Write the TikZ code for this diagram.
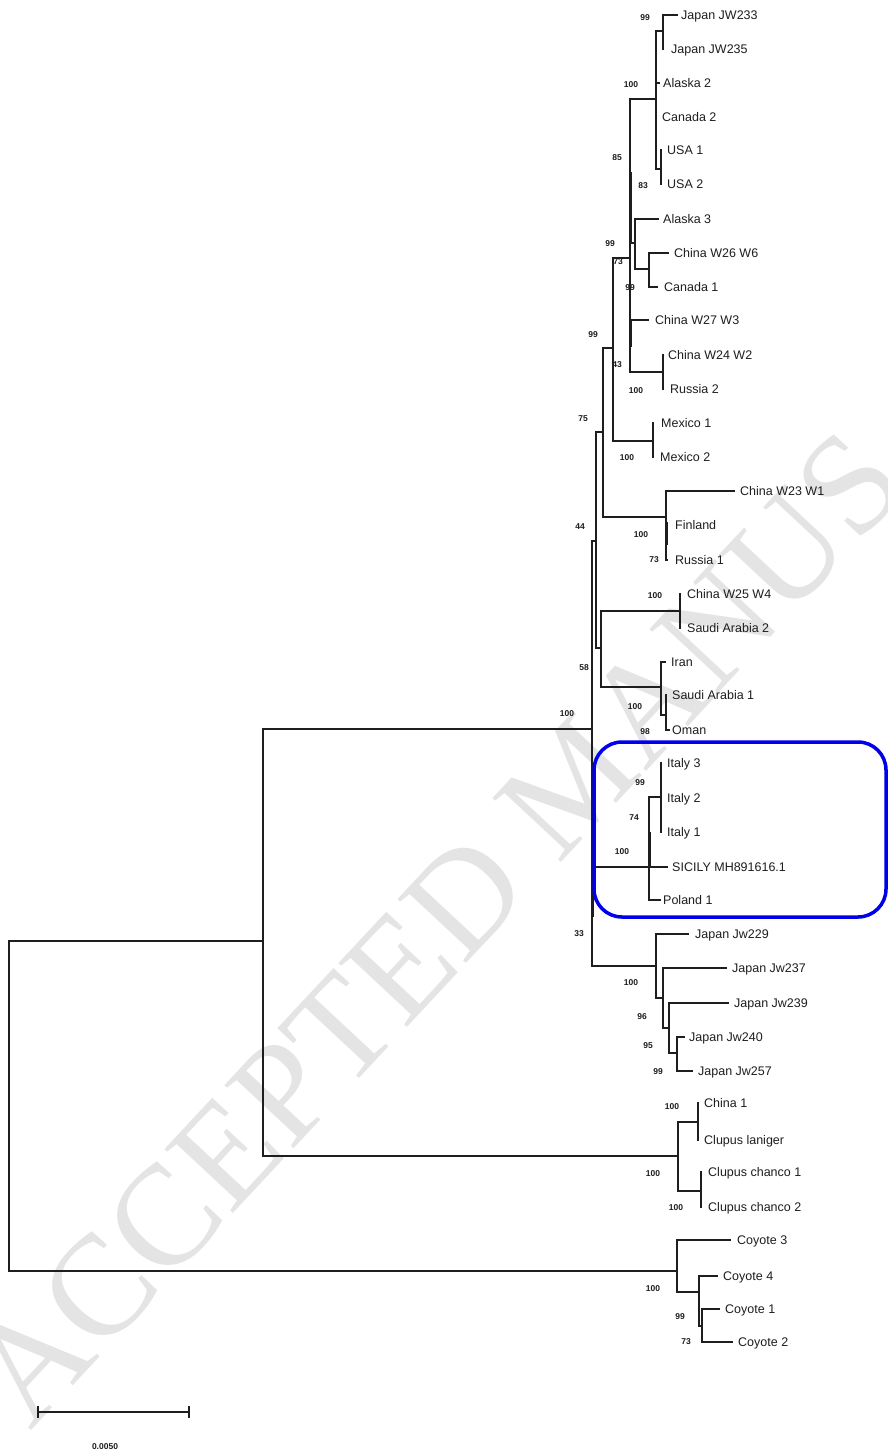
\documentclass[tikz,border=0pt]{standalone}
\usepackage{fontspec}
\setmainfont{Liberation Sans}
\newfontfamily\wmfont{Liberation Serif}
\definecolor{treeline}{RGB}{30,30,30}
\definecolor{wmgray}{RGB}{228,228,228}
\definecolor{boxblue}{RGB}{0,0,235}
\newcommand\leaf[5]{\coordinate (e#1) at (#2,#3); \node[tip] (l#1) at (#4,#3) {#5};}
\newcommand\hb[2]{\draw[br] (#1|-#2) -- (#2);}
\newcommand\vb[3]{\draw[br] (#1|-#2) -- (#1|-#3);}
\begin{document}
\begin{tikzpicture}[x=1pt,y=-1pt,
  br/.style={line width=1.2pt, treeline, line cap=rect},
  thk/.style={line width=3pt, treeline},
  tip/.style={anchor=west, inner sep=0pt, font=\fontsize{12.5}{14}\selectfont, text height=9pt, text depth=0pt, text=treeline},
  bs/.style={inner sep=0pt, font=\fontsize{8.5}{9}\selectfont\bfseries, text=treeline},
]
\useasboundingbox (0,0) rectangle (888,1453);
\fill[white] (0,0) rectangle (888,1453);
% watermark
\begin{scope}
\clip (0,0) rectangle (888,1453);
\node[anchor=base west, rotate=47, inner sep=0pt, text=wmgray, font=\wmfont\fontsize{143}{143}\selectfont] (wm) at (30,1432) {ACCEPTED MANUS};
\end{scope}

% leaves
\leaf{a}{677}{15}{681}{Japan JW233}
\leaf{b}{663}{49}{671}{Japan JW235}
\leaf{c}{659}{83}{663}{Alaska 2}
\leaf{d}{656}{117}{662}{Canada 2}
\leaf{e}{661}{150}{667}{USA 1}
\leaf{f}{661}{184}{667}{USA 2}
\leaf{g}{658}{219}{663}{Alaska 3}
\leaf{h}{668}{253}{674}{China W26 W6}
\leaf{i}{657}{287}{664}{Canada 1}
\leaf{j}{648}{320}{655}{China W27 W3}
\leaf{k}{663}{355}{668}{China W24 W2}
\leaf{l}{663}{389}{670}{Russia 2}
\leaf{m}{653}{423}{661}{Mexico 1}
\leaf{n}{653}{457}{660}{Mexico 2}
\leaf{o}{734}{491}{740}{China W23 W1}
\leaf{p}{666}{525}{675}{Finland}
\leaf{q}{667}{560}{675}{Russia 1}
\leaf{r}{680}{594}{687}{China W25 W4}
\leaf{s}{680}{628}{687}{Saudi Arabia 2}
\leaf{t}{665}{662}{671}{Iran}
\leaf{u}{666}{695}{672}{Saudi Arabia 1}
\leaf{v}{669}{730}{672}{Oman}
\leaf{w}{661}{763}{667}{Italy 3}
\leaf{x}{661}{798}{667}{Italy 2}
\leaf{y}{661}{832}{667}{Italy 1}
\leaf{z}{667}{867}{672}{SICILY MH891616.1}
\leaf{aa}{660}{900}{663}{Poland 1}
\leaf{ab}{688}{934}{695}{Japan Jw229}
\leaf{ac}{726}{968}{732}{Japan Jw237}
\leaf{ad}{728}{1003}{734}{Japan Jw239}
\leaf{ae}{684}{1037}{689}{Japan Jw240}
\leaf{af}{692}{1071}{698}{Japan Jw257}
\leaf{ag}{698}{1103}{704}{China 1}
\leaf{ah}{698}{1140}{704}{Clupus laniger}
\leaf{ai}{701}{1172}{708}{Clupus chanco 1}
\leaf{aj}{701}{1207}{708}{Clupus chanco 2}
\leaf{ak}{730}{1240}{737}{Coyote 3}
\leaf{al}{717}{1276}{723}{Coyote 4}
\leaf{am}{719}{1309}{725}{Coyote 1}
\leaf{an}{732}{1342}{738}{Coyote 2}

% internal nodes
\coordinate (R) at (9,1106);
\coordinate (nA) at (263,941);
\coordinate (nIn) at (592,729);
\coordinate (nClu) at (678,1156);
\coordinate (nCoy) at (677,1271);
\coordinate (n44) at (596,541);
\coordinate (nIt) at (649,867);
\coordinate (nJw) at (656,966);
\coordinate (n75) at (603,432);
\coordinate (n58) at (601,648);
\coordinate (n99) at (613,348);
\coordinate (nFin) at (666,517);
\coordinate (n85) at (630,258);
\coordinate (nMex) at (653,441);
\coordinate (nTop) at (656,99);
\coordinate (nAk) at (635,243);
\coordinate (nC24) at (663,372);
\coordinate (nJp) at (663,31);
\coordinate (nUSA) at (661,169);
\coordinate (nC26) at (649,269);
\coordinate (nC25) at (680,611);
\coordinate (nIr) at (661,687);
\coordinate (nSA) at (666,715);
\coordinate (nI3) at (661,797);
\coordinate (nJ2) at (663,998);
\coordinate (nJ3) at (669,1028);
\coordinate (nJ4) at (677,1053);
\coordinate (nC1) at (698,1122);
\coordinate (nC2) at (701,1191);
\coordinate (nK2) at (699,1292);
\coordinate (nK3) at (702,1326);

% branches
\vb{R}{nA}{nCoy} \hb{R}{nA} \hb{R}{nCoy}
\vb{nA}{nIn}{nClu} \hb{nA}{nIn} \hb{nA}{nClu}
\vb{nIn}{n44}{nJw} \hb{nIn}{n44} \hb{nIn}{nIt} \hb{nIn}{nJw}
\vb{n44}{n75}{n58} \hb{n44}{n75} \hb{n44}{n58}
\vb{n75}{n99}{nFin} \hb{n75}{n99} \hb{n75}{nFin}
\vb{n99}{n85}{nMex} \hb{n99}{n85} \hb{n99}{nMex}
\vb{n85}{nTop}{nC24} \hb{n85}{nTop} \hb{n85}{nAk} \hb{n85}{ej} \hb{n85}{nC24}
\vb{nTop}{nJp}{nUSA} \hb{nTop}{nJp} \hb{nTop}{ec} \hb{nTop}{nUSA}
\vb{nJp}{ea}{eb} \hb{nJp}{ea}
\vb{nUSA}{ee}{ef}
\vb{nAk}{eg}{nC26} \hb{nAk}{eg} \hb{nAk}{nC26}
\vb{nC26}{eh}{ei} \hb{nC26}{eh} \hb{nC26}{ei}
\vb{nC24}{ek}{el}
\vb{nMex}{em}{en}
\vb{nFin}{eo}{eq} \hb{nFin}{eo} \hb{nFin}{eq}
\vb{n58}{nC25}{nIr} \hb{n58}{nC25} \hb{n58}{nIr}
\vb{nC25}{er}{es}
\vb{nIr}{et}{nSA} \hb{nIr}{et} \hb{nIr}{nSA}
\vb{nSA}{eu}{ev} \hb{nSA}{ev}
\vb{nIt}{nI3}{eaa} \hb{nIt}{nI3} \hb{nIt}{ez} \hb{nIt}{eaa}
\vb{nI3}{ew}{ey}
\vb{nJw}{eab}{nJ2} \hb{nJw}{eab} \hb{nJw}{nJ2}
\vb{nJ2}{eac}{nJ3} \hb{nJ2}{eac} \hb{nJ2}{nJ3}
\vb{nJ3}{ead}{nJ4} \hb{nJ3}{ead} \hb{nJ3}{nJ4}
\vb{nJ4}{eae}{eaf} \hb{nJ4}{eae} \hb{nJ4}{eaf}
\vb{nClu}{nC1}{nC2} \hb{nClu}{nC1} \hb{nClu}{nC2}
\vb{nC1}{eag}{eah}
\vb{nC2}{eai}{eaj}
\vb{nCoy}{eak}{nK2} \hb{nCoy}{eak} \hb{nCoy}{nK2}
\vb{nK2}{eal}{nK3} \hb{nK2}{eal} \hb{nK2}{nK3}
\vb{nK3}{eam}{ean} \hb{nK3}{eam} \hb{nK3}{ean}

% overlapping short branches (thick)
\draw[thk] (630,172) -- (630,243);
\draw[thk] (630,320) -- (630,347);
\draw[thk] (666,522) -- (666,545);
\draw[thk] (592,890) -- (592,917);
\draw[thk] (649,832) -- (649,867);

% bootstrap values
\node[bs] (b1) at (645,18) {99};
\node[bs] (b2) at (631,85) {100};
\node[bs] (b3) at (617,158) {85};
\node[bs] (b4) at (643,186) {83};
\node[bs] (b5) at (610,244) {99};
\node[bs] (b6) at (618,262) {73};
\node[bs] (b7) at (630,288) {99};
\node[bs] (b8) at (593,335) {99};
\node[bs] (b9) at (617,365) {43};
\node[bs] (b10) at (636,391) {100};
\node[bs] (b11) at (583,419) {75};
\node[bs] (b12) at (627,458) {100};
\node[bs] (b13) at (580,527) {44};
\node[bs] (b14) at (641,535) {100};
\node[bs] (b15) at (654,560) {73};
\node[bs] (b16) at (655,596) {100};
\node[bs] (b17) at (584,668) {58};
\node[bs] (b18) at (567,714) {100};
\node[bs] (b19) at (635,707) {100};
\node[bs] (b20) at (645,732) {98};
\node[bs] (b21) at (640,783) {99};
\node[bs] (b22) at (634,818) {74};
\node[bs] (b23) at (622,852) {100};
\node[bs] (b24) at (579,934) {33};
\node[bs] (b25) at (631,983) {100};
\node[bs] (b26) at (642,1017) {96};
\node[bs] (b27) at (648,1046) {95};
\node[bs] (b28) at (658,1072) {99};
\node[bs] (b29) at (672,1107) {100};
\node[bs] (b30) at (653,1174) {100};
\node[bs] (b31) at (676,1208) {100};
\node[bs] (b32) at (653,1289) {100};
\node[bs] (b33) at (680,1317) {99};
\node[bs] (b34) at (686,1342) {73};

% highlight box
\draw[boxblue, line width=3.5pt, rounded corners=28pt] (594,742) rectangle (886,917);

% scale bar
\coordinate (sb1) at (38,1412);
\coordinate (sb2) at (189,1412);
\draw[br, line cap=butt] (sb1) -- (sb2);
\draw[br, line cap=butt] ([yshift=-6pt]sb1) -- ([yshift=6pt]sb1);
\draw[br, line cap=butt] ([yshift=-6pt]sb2) -- ([yshift=6pt]sb2);
\node[bs] (sbl) at (105,1447) {0.0050};
\end{tikzpicture}
\end{document}
